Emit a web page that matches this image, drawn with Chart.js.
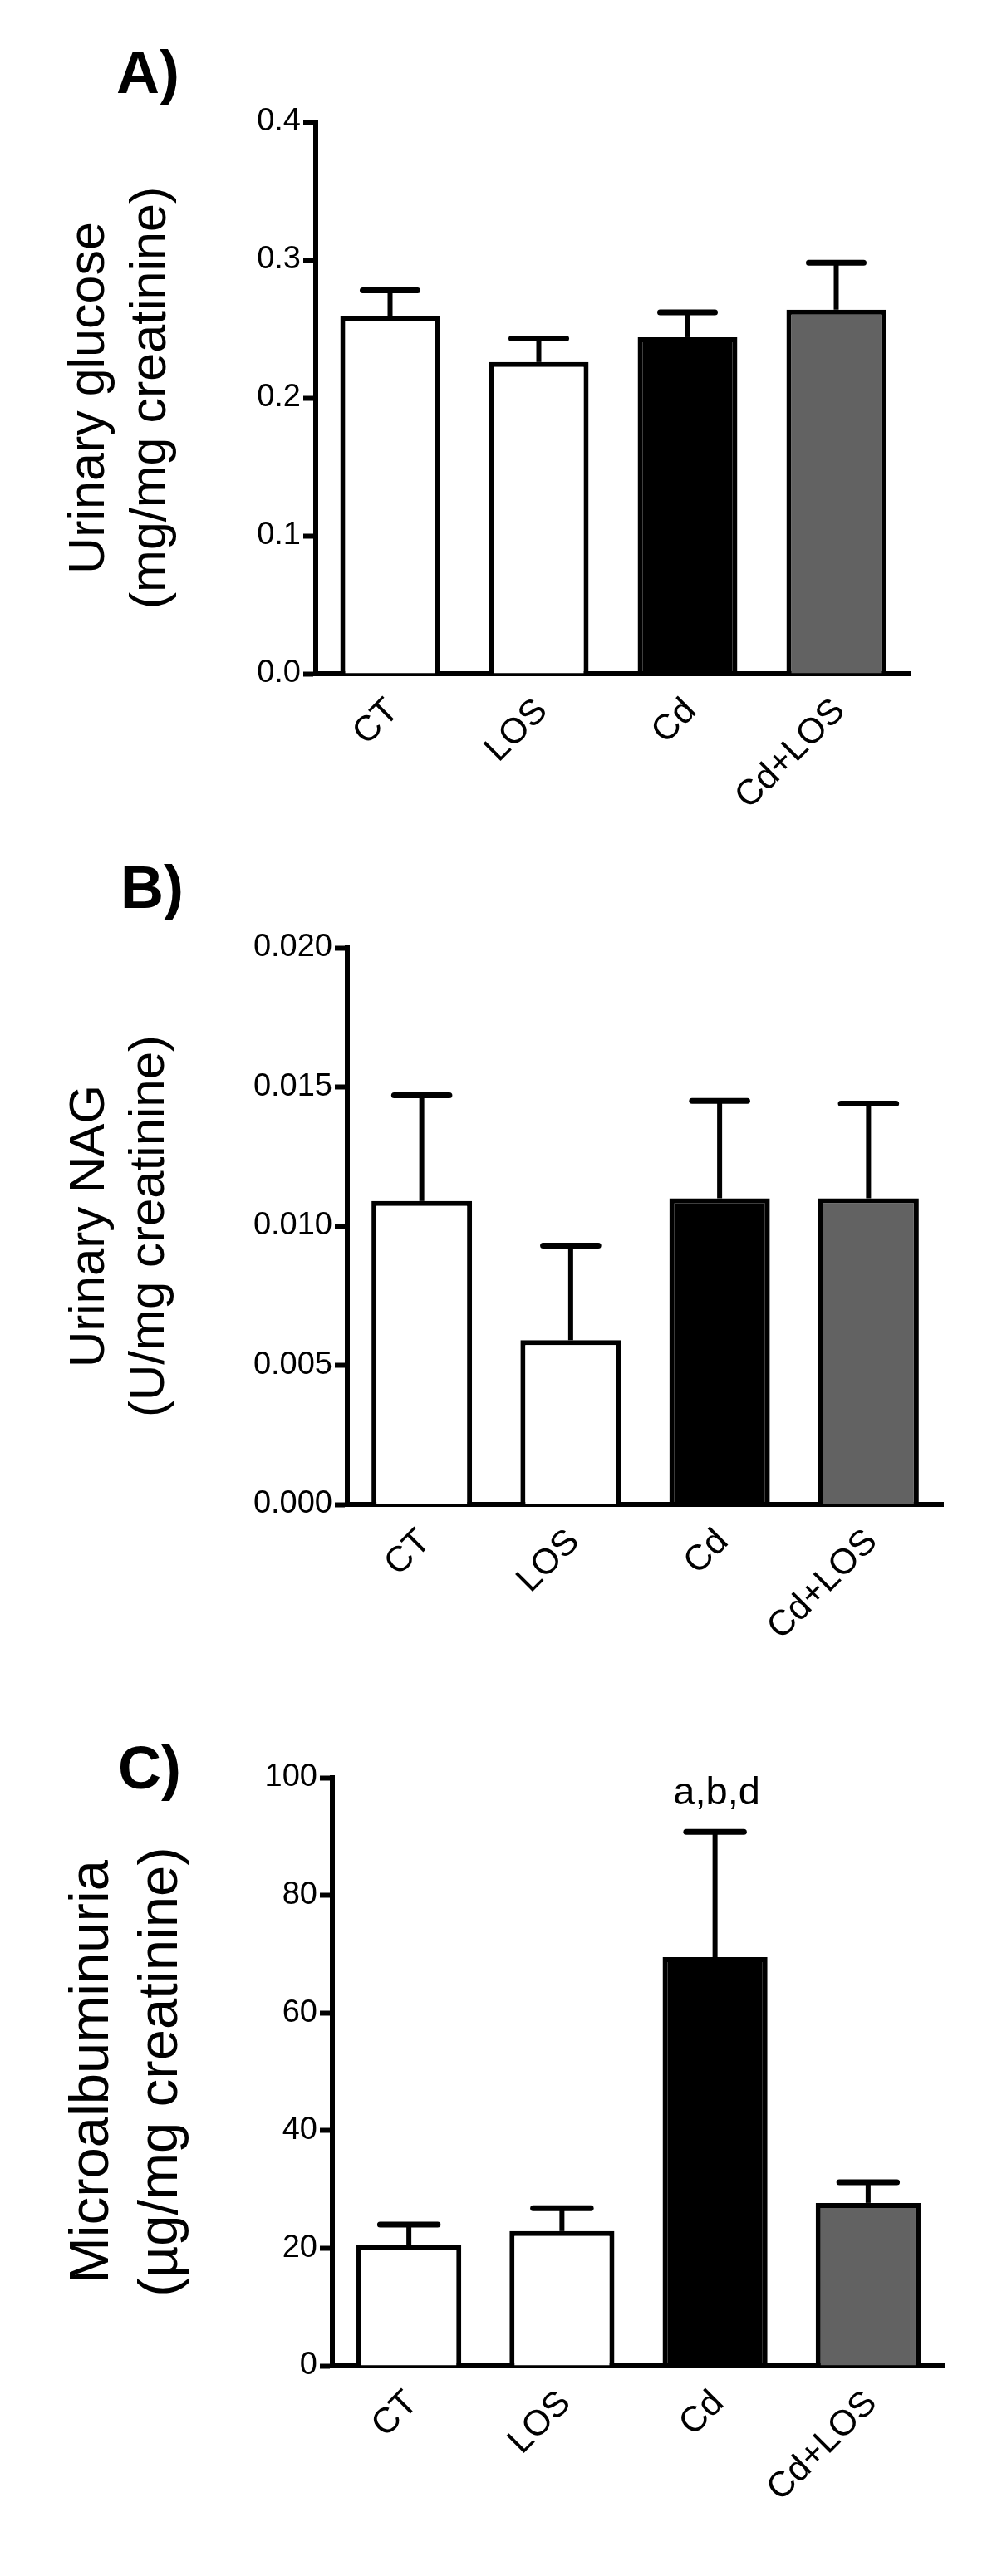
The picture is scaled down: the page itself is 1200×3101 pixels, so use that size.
<!DOCTYPE html>
<html>
<head>
<meta charset="utf-8">
<script src="https://cdn.jsdelivr.net/npm/chart.js@4"></script>
<style>
  html, body { margin: 0; padding: 0; background: #fff; }
  body { width: 1200px; height: 3101px; position: relative; }
  .panel { position: absolute; left: 0; width: 1200px; }
</style>
</head>
<body>
<div class="panel" style="top:0;height:1000px"><canvas id="chartA"></canvas></div>
<div class="panel" style="top:1000px;height:1000px"><canvas id="chartB"></canvas></div>
<div class="panel" style="top:2000px;height:1101px"><canvas id="chartC"></canvas></div>
<script>
const groups = ['CT', 'LOS', 'Cd', 'Cd+LOS'];
const barColors = ['#ffffff', '#ffffff', '#000000', '#626262'];

// A) urinary glucose
const glucoseMean = [0.259, 0.226, 0.244, 0.264];
const glucoseSem = [0.019, 0.017, 0.018, 0.034];
const glucoseTicks = [0, 0.1, 0.2, 0.3, 0.4];
const glucoseTickLabels = ['0.0', '0.1', '0.2', '0.3', '0.4'];

// B) urinary NAG
const nagMean = [0.0109, 0.0059, 0.0110, 0.0110];
const nagSem = [0.0038, 0.0034, 0.0035, 0.0034];
const nagTicks = [0, 0.005, 0.010, 0.015, 0.020];
const nagTickLabels = ['0.000', '0.005', '0.010', '0.015', '0.020'];

// C) microalbuminuria
const albMean = [20.6, 22.9, 69.5, 27.7];
const albSem = [3.4, 3.9, 21.3, 3.5];
const albTicks = [0, 20, 40, 60, 80, 100];
const albTickLabels = ['0', '20', '40', '60', '80', '100'];
const albNotes = ['', '', 'a,b,d', ''];

const FONT = '"Liberation Sans", Arial, Helvetica, sans-serif';

// error bars (mean + SEM), significance letters and panel letter
const extrasPlugin = {
    id: 'extras',
    afterDatasetsDraw(chart, args, opts) {
        const ctx = chart.ctx;
        const meta = chart.getDatasetMeta(0);
        const yScale = chart.scales.y;
        const values = chart.data.datasets[0].data;
        ctx.save();
        ctx.strokeStyle = '#000';
        ctx.fillStyle = '#000';
        meta.data.forEach((bar, i) => {
            const top = yScale.getPixelForValue(values[i] + opts.sem[i]);
            const half = bar.width * opts.capRatio / 2;
            ctx.lineCap = 'butt';
            ctx.lineWidth = 6;
            ctx.beginPath();
            ctx.moveTo(bar.x, bar.y);
            ctx.lineTo(bar.x, top);
            ctx.stroke();
            ctx.lineCap = 'round';
            ctx.lineWidth = 7;
            ctx.beginPath();
            ctx.moveTo(bar.x - half, top);
            ctx.lineTo(bar.x + half, top);
            ctx.stroke();
            if (opts.notes && opts.notes[i]) {
                ctx.font = '47px ' + FONT;
                ctx.textAlign = 'center';
                ctx.textBaseline = 'alphabetic';
                ctx.fillText(opts.notes[i], bar.x + 2, top - 33);
            }
        });
        ctx.font = 'bold 72px ' + FONT;
        ctx.textAlign = 'left';
        ctx.textBaseline = 'alphabetic';
        ctx.fillText(opts.label, opts.labelX, opts.labelY);
        ctx.restore();
    }
};

function makeChart(id, cfg) {
    const ctx = document.getElementById(id).getContext('2d');
    return new Chart(ctx, {
        type: 'bar',
        data: {
            labels: groups,
            datasets: [{
                data: cfg.mean,
                backgroundColor: barColors,
                borderColor: '#000',
                borderWidth: 6,
                barPercentage: cfg.barPct,
                categoryPercentage: 1
            }]
        },
        plugins: [extrasPlugin],
        options: {
            responsive: true,
            maintainAspectRatio: false,
            animation: false,
            layout: {
                padding: { left: 0, right: cfg.padRight, top: cfg.padTop, bottom: 0 }
            },
            plugins: {
                legend: { display: false },
                tooltip: { enabled: false },
                extras: {
                    sem: cfg.sem,
                    notes: cfg.notes,
                    capRatio: 0.55,
                    label: cfg.label,
                    labelX: cfg.labelX,
                    labelY: cfg.labelY
                }
            },
            scales: {
                x: {
                    grid: { display: false, drawTicks: false },
                    border: { display: true, color: '#000', width: 6 },
                    ticks: {
                        color: '#000',
                        minRotation: 45,
                        maxRotation: 45,
                        padding: 20,
                        labelOffset: 4,
                        font: { family: FONT, size: 43 }
                    },
                    afterFit(scale) { scale.height = cfg.xHeight; }
                },
                y: {
                    min: cfg.ticks[0],
                    max: cfg.ticks[cfg.ticks.length - 1],
                    afterBuildTicks(scale) {
                        scale.ticks = cfg.ticks.map(v => ({ value: v }));
                    },
                    grid: {
                        display: true,
                        drawOnChartArea: false,
                        drawTicks: true,
                        tickLength: 15,
                        tickWidth: 6,
                        tickColor: '#000'
                    },
                    border: { display: true, color: '#000', width: 6 },
                    ticks: {
                        color: '#000',
                        padding: 3,
                        font: { family: FONT, size: 38 },
                        callback: (v, i) => cfg.tickLabels[i]
                    },
                    title: {
                        display: true,
                        text: cfg.title,
                        color: '#000',
                        font: { family: FONT, size: cfg.titleSize, lineHeight: cfg.titleLH },
                        padding: { top: cfg.titlePad, bottom: 0 }
                    },
                    afterFit(scale) { scale.width = cfg.yWidth; }
                }
            }
        }
    });
}

makeChart('chartA', {
    mean: glucoseMean, sem: glucoseSem, notes: null,
    ticks: glucoseTicks, tickLabels: glucoseTickLabels,
    title: ['Urinary glucose', '(mg/mg creatinine)'],
    titleSize: 61, titleLH: 1.2, titlePad: 72,
    barPct: 0.67, padTop: 147, padRight: 104, yWidth: 380, xHeight: 189,
    label: 'A)', labelX: 140, labelY: 112
});

makeChart('chartB', {
    mean: nagMean, sem: nagSem, notes: null,
    ticks: nagTicks, tickLabels: nagTickLabels,
    title: ['Urinary NAG', '(U/mg creatinine)'],
    titleSize: 60, titleLH: 1.2, titlePad: 72,
    barPct: 0.675, padTop: 141, padRight: 65, yWidth: 418, xHeight: 189,
    label: 'B)', labelX: 145, labelY: 93
});

makeChart('chartC', {
    mean: albMean, sem: albSem, notes: albNotes,
    ticks: albTicks, tickLabels: albTickLabels,
    title: ['Microalbuminuria', '(\u00b5g/mg creatinine)'],
    titleSize: 67, titleLH: 1.24, titlePad: 70,
    barPct: 0.685, padTop: 140, padRight: 63, yWidth: 400, xHeight: 253,
    label: 'C)', labelX: 142, labelY: 153
});
</script>
</body>
</html>
